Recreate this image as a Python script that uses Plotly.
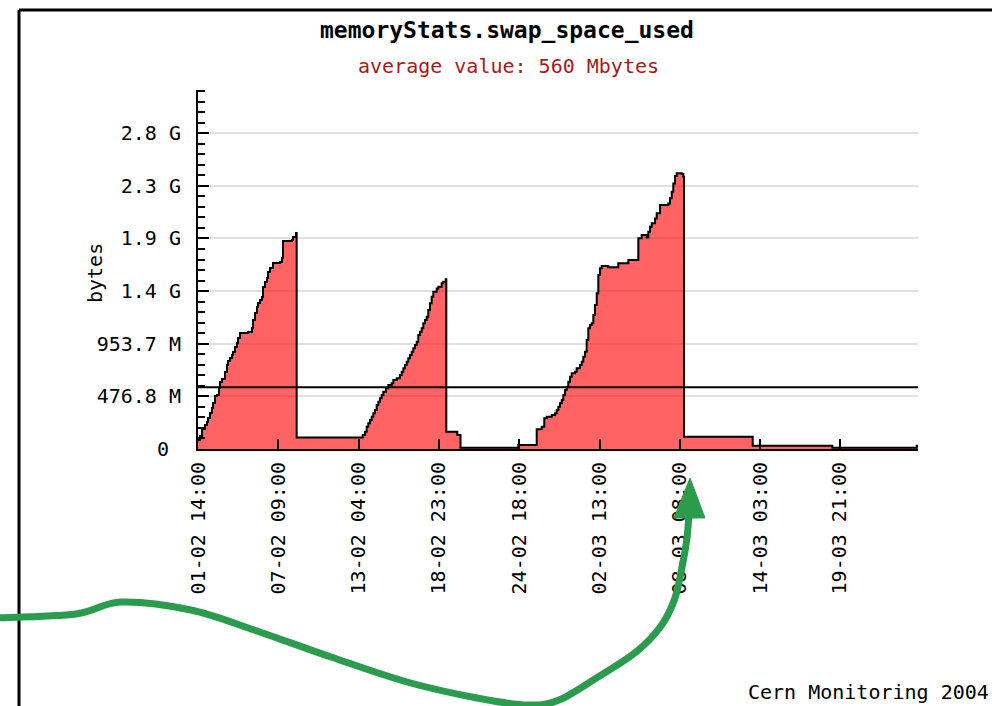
import pandas as pd
import plotly.graph_objects as go

# ---------------- data ----------------
START = "2003-02-01 14:00"

hours_since_start = [
    0, 3.5, 6.9, 12.1, 15.6, 17.3, 20.8, 24.2, 26.0, 29.4, 32.9, 36.4, 38.1, 41.5,
    46.7, 50.2, 51.9, 55.4, 58.9, 60.6, 64.0, 67.5, 69.2, 72.7, 86.6, 93.5, 95.2,
    98.7, 102.1, 103.9, 107.3, 110.8, 112.5, 116.0, 119.4, 121.2, 124.6, 129.8,
    141.9, 145.4, 147.1, 162.7, 164.4, 169.6, 170.8,
    285.1, 289.1, 292.0, 294.8, 297.7, 300.7, 303.4, 306.4, 309.3, 312.1, 315.0,
    318.0, 320.8, 325.4, 329.4, 335.3, 338.1, 344.0, 349.7, 352.6, 355.4, 358.3,
    361.3, 364.0, 367.0, 369.9, 372.7, 375.6, 378.6, 381.3, 384.3, 387.2, 390.0,
    392.9, 395.9, 398.6, 401.6, 404.5, 407.3, 413.2, 416.0, 421.8, 424.6, 428.8,
    429.8, 448.9, 454.4, 554.4,
    586.3, 594.9, 599.4, 603.6, 612.3, 618.0, 620.9, 623.7, 626.6, 629.6, 632.3,
    635.3, 638.2, 641.0, 643.9, 646.9, 652.6, 655.5, 661.2, 664.2, 666.9, 669.9,
    672.8, 675.6, 678.6, 681.5, 684.3, 687.2, 690.2, 692.9, 695.9, 698.8, 710.2,
    727.5, 744.9, 762.2, 768.0, 776.7, 779.5, 782.4, 785.4, 791.1, 794.0, 799.7,
    814.1, 817.0, 820.0, 822.7, 825.7, 828.6, 837.3, 840.1, 841.3,
    960.2, 1098.0, 1244.1, 1246.3,
]

swap_used_mib = [
    82, 118, 181, 217, 245, 281, 326, 371, 417, 480, 489, 552, 607, 634,
    697, 761, 797, 824, 851, 879, 924, 960, 1005, 1051, 1060, 1096, 1168,
    1232, 1286, 1322, 1349, 1377, 1467, 1513, 1549, 1603, 1639, 1685,
    1694, 1730, 1884, 1893, 1920, 1956, 105,
    127, 157, 202, 233, 263, 293, 323, 353, 399, 428, 459,
    489, 519, 550, 580, 595, 625, 640, 670, 700, 731, 761,
    791, 821, 851, 881, 912, 942, 972, 1032, 1062, 1093, 1138,
    1168, 1198, 1259, 1320, 1380, 1425, 1455, 1470, 1501, 1515, 1537,
    157, 127, 12, 36,
    178, 202, 278, 293, 308, 323, 353, 383, 414, 444, 489,
    534, 564, 610, 655, 686, 700, 731, 761, 791, 836, 881,
    987, 1093, 1123, 1138, 1214, 1304, 1410, 1576, 1637, 1657, 1646,
    1682, 1712, 1908, 1938, 1917, 1968, 2013, 2044, 2089, 2135, 2210,
    2225, 2271, 2330, 2406, 2473, 2497, 2491, 2466, 111,
    30, 12, 30, 30,
]

average_mbytes = 560

y_tick_values = [0, 5e8, 1e9, 1.5e9, 2e9, 2.5e9, 3e9]
y_tick_labels = ["0\u00a0", "476.8 M", "953.7 M", "1.4 G", "1.9 G", "2.3 G", "2.8 G"]
Y_MAX = 3.41e9

x_tick_labels = ["01-02 14:00", "07-02 09:00", "13-02 04:00", "18-02 23:00",
                 "24-02 18:00", "02-03 13:00", "08-03 08:00", "14-03 03:00",
                 "19-03 21:00"]

title_text = "memoryStats.swap_space_used"
subtitle_text = "average value: 560 Mbytes"
y_title = "bytes"
credit_text = "Cern Monitoring 2004"

# ---------------- derived ----------------
MIB = 1048576
times = pd.Timestamp(START) + pd.to_timedelta(hours_since_start, unit="h")
values_bytes = [v * MIB for v in swap_used_mib]
avg_bytes = average_mbytes * MIB
x_tickvals = [pd.to_datetime("2003-" + t, format="%Y-%d-%m %H:%M") for t in x_tick_labels]

# ---------------- layout geometry (pixels) ----------------
W, H = 992, 706
PL, PR, PT, PB = 198, 918, 90, 449
FONT = "DejaVu Sans Mono"


def px(x, y):
    return ((x - PL) / (PR - PL), (PB - y) / (PB - PT))


def smooth_path(pts):
    P = [px(*p) for p in pts]
    d = f"M {P[0][0]:.5f},{P[0][1]:.5f}"
    for i in range(len(P) - 1):
        p0 = P[i - 1] if i > 0 else P[i]
        p1, p2 = P[i], P[i + 1]
        p3 = P[i + 2] if i + 2 < len(P) else P[i + 1]
        c1 = (p1[0] + (p2[0] - p0[0]) / 6, p1[1] + (p2[1] - p0[1]) / 6)
        c2 = (p2[0] - (p3[0] - p1[0]) / 6, p2[1] - (p3[1] - p1[1]) / 6)
        d += (f" C {c1[0]:.5f},{c1[1]:.5f} {c2[0]:.5f},{c2[1]:.5f}"
              f" {p2[0]:.5f},{p2[1]:.5f}")
    return d


def poly_path(pts):
    P = [px(*p) for p in pts]
    return "M " + " L ".join(f"{a:.5f},{b:.5f}" for a, b in P) + " Z"


ARROW_PTS = [(-6, 618), (76, 614), (121, 602), (191, 610), (254, 630), (331, 657),
             (407, 682), (477, 698), (528, 705), (559, 700), (598, 677), (636, 652),
             (661, 626), (675, 598), (683, 562), (687, 538), (689, 514)]
ARROW_HEAD = [(690, 478), (674, 518), (705, 518)]
GREEN = "#2b9c4e"

fig = go.Figure()
fig.add_trace(go.Scatter(
    x=times, y=values_bytes, mode="lines", line=dict(shape="hv", color="black", width=2),
    fill="tozeroy", fillcolor="rgba(255,0,0,0.61)", hoverinfo="skip", showlegend=False,
))
fig.add_trace(go.Scatter(
    x=[times[0], times[-1]], y=[avg_bytes, avg_bytes], mode="lines",
    line=dict(color="black", width=2), hoverinfo="skip", showlegend=False,
))

shapes = [
    dict(type="line", xref="paper", yref="paper",
         x0=px(19, 10)[0], y0=px(19, 10)[1], x1=px(995, 10)[0], y1=px(995, 10)[1],
         line=dict(color="black", width=3)),
    dict(type="line", xref="paper", yref="paper",
         x0=px(19, 10)[0], y0=px(19, 10)[1], x1=px(19, 710)[0], y1=px(19, 710)[1],
         line=dict(color="black", width=3)),
    dict(type="path", xref="paper", yref="paper", path=smooth_path(ARROW_PTS),
         line=dict(color=GREEN, width=7), layer="above"),
    dict(type="path", xref="paper", yref="paper", path=poly_path(ARROW_HEAD),
         fillcolor=GREEN, line=dict(color=GREEN, width=1), layer="above"),
]

annotations = [
    dict(text="<b>" + title_text + "</b>", x=px(507, 30)[0], y=px(507, 30)[1],
         xref="paper", yref="paper", showarrow=False, xanchor="center", yanchor="middle",
         font=dict(family=FONT, size=23, color="black")),
    dict(text=subtitle_text, x=px(508, 66)[0], y=px(508, 66)[1],
         xref="paper", yref="paper", showarrow=False, xanchor="center", yanchor="middle",
         font=dict(family=FONT, size=20, color="#a51a1a")),
    dict(text=y_title, x=px(95, 273)[0], y=px(95, 273)[1], textangle=-90,
         xref="paper", yref="paper", showarrow=False, xanchor="center", yanchor="middle",
         font=dict(family=FONT, size=20, color="black")),
    dict(text=credit_text, x=px(991, 692)[0], y=px(991, 692)[1],
         xref="paper", yref="paper", showarrow=False, xanchor="right", yanchor="middle",
         font=dict(family=FONT, size=20, color="black")),
]

fig.update_layout(
    width=W, height=H, autosize=False,
    margin=dict(l=PL, r=W - PR, t=PT, b=H - PB, pad=0),
    paper_bgcolor="white", plot_bgcolor="white",
    showlegend=False, shapes=shapes, annotations=annotations,
    font=dict(family=FONT, size=20, color="black"),
    xaxis=dict(
        type="date", range=[times[0], times[-1]],
        tickmode="array", tickvals=x_tickvals, ticktext=x_tick_labels, tickangle=-90,
        ticks="inside", ticklen=10, tickwidth=2, tickcolor="black",
        showline=True, linecolor="black", linewidth=2,
        showgrid=False, zeroline=False, ticklabelstandoff=3,
        tickfont=dict(family=FONT, size=20, color="black"),
    ),
    yaxis=dict(
        range=[0, Y_MAX], tickmode="array", tickvals=y_tick_values, ticktext=y_tick_labels,
        ticks="inside", ticklen=11, tickwidth=2, tickcolor="black",
        minor=dict(ticks="inside", ticklen=7, tickwidth=2, tickcolor="black",
                   dtick=1e8, tick0=0, showgrid=False),
        showline=True, linecolor="black", linewidth=2,
        showgrid=True, gridcolor="#e0e0e0", gridwidth=2, zeroline=False,
        ticklabelstandoff=11,
        tickfont=dict(family=FONT, size=20, color="black"),
    ),
)

fig.write_html("out.html",
               config={"displayModeBar": False},
               post_script="document.body.style.margin='0';document.body.style.padding='0';")
